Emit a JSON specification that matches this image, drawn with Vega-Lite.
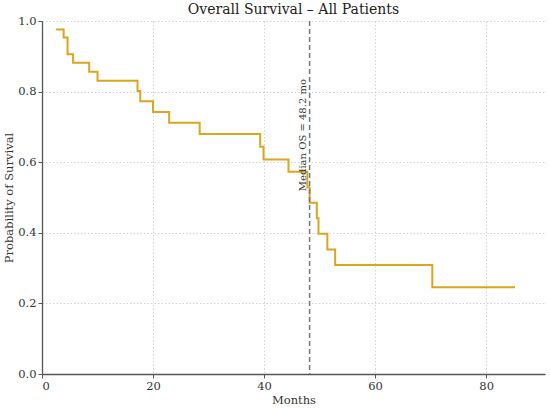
{
  "$schema": "https://vega.github.io/schema/vega-lite/v6.json",
  "description": "Kaplan-Meier overall survival curve for all patients.",
  "autosize": {"type": "none"},
  "padding": {"left": 42, "top": 21, "right": 5, "bottom": 34},
  "width": 503,
  "height": 353,
  "title": {
    "text": "Overall Survival – All Patients",
    "font": "DejaVu Serif",
    "fontSize": 14,
    "fontWeight": "normal",
    "color": "#222",
    "anchor": "middle",
    "offset": -2
  },
  "datasets": {
    "km": [
      {"month": 2.5, "survival": 0.976},
      {"month": 3.9, "survival": 0.953},
      {"month": 4.6, "survival": 0.906},
      {"month": 5.6, "survival": 0.882},
      {"month": 8.5, "survival": 0.856},
      {"month": 10.0, "survival": 0.831},
      {"month": 17.2, "survival": 0.802},
      {"month": 17.7, "survival": 0.773},
      {"month": 20.0, "survival": 0.742},
      {"month": 22.9, "survival": 0.712},
      {"month": 28.4, "survival": 0.680},
      {"month": 39.3, "survival": 0.644},
      {"month": 39.9, "survival": 0.608},
      {"month": 44.4, "survival": 0.573},
      {"month": 47.8, "survival": 0.529},
      {"month": 48.2, "survival": 0.485},
      {"month": 49.5, "survival": 0.441},
      {"month": 49.8, "survival": 0.397},
      {"month": 51.4, "survival": 0.353},
      {"month": 52.8, "survival": 0.309},
      {"month": 70.3, "survival": 0.246},
      {"month": 85.2, "survival": 0.246}
    ],
    "median": [
      {"month": 48.2, "survival": 0.518, "label": "Median OS = 48.2 mo"}
    ]
  },
  "layer": [
    {
      "data": {"name": "km"},
      "mark": {"type": "line", "interpolate": "step-after", "color": "#DAA520", "strokeWidth": 2},
      "encoding": {
        "x": {
          "field": "month", "type": "quantitative",
          "scale": {"domain": [0, 90.6], "nice": false, "zero": false},
          "axis": {"title": "Months", "values": [0, 20, 40, 60, 80]}
        },
        "y": {
          "field": "survival", "type": "quantitative",
          "scale": {"domain": [0, 1], "nice": false},
          "axis": {"title": "Probability of Survival", "values": [0, 0.2, 0.4, 0.6, 0.8, 1.0], "format": ".1f"}
        }
      }
    },
    {
      "data": {"name": "median"},
      "mark": {"type": "rule", "color": "#777", "strokeWidth": 1.5, "strokeDash": [5, 3]},
      "encoding": {
        "x": {"field": "month", "type": "quantitative"}
      }
    },
    {
      "data": {"name": "median"},
      "mark": {
        "type": "text", "angle": 270, "align": "left", "baseline": "bottom",
        "font": "DejaVu Serif", "fontSize": 10, "color": "#333", "dy": -2
      },
      "encoding": {
        "x": {"field": "month", "type": "quantitative"},
        "y": {"field": "survival", "type": "quantitative"},
        "text": {"field": "label"}
      }
    }
  ],
  "config": {
    "view": {"stroke": null},
    "axis": {
      "labelFont": "DejaVu Serif",
      "titleFont": "DejaVu Serif",
      "labelFontSize": 11.5,
      "titleFontSize": 11.5,
      "titleFontWeight": "normal",
      "labelColor": "#333",
      "titleColor": "#333",
      "domainColor": "#555",
      "domainWidth": 1.3,
      "tickColor": "#555",
      "tickSize": 4,
      "grid": true,
      "gridColor": "#c8c8c8",
      "gridDash": [1.5, 2],
      "gridWidth": 0.8
    },
    "axisX": {"titlePadding": 3, "labelPadding": 2},
    "axisY": {"titlePadding": 3, "labelPadding": 2}
  }
}
